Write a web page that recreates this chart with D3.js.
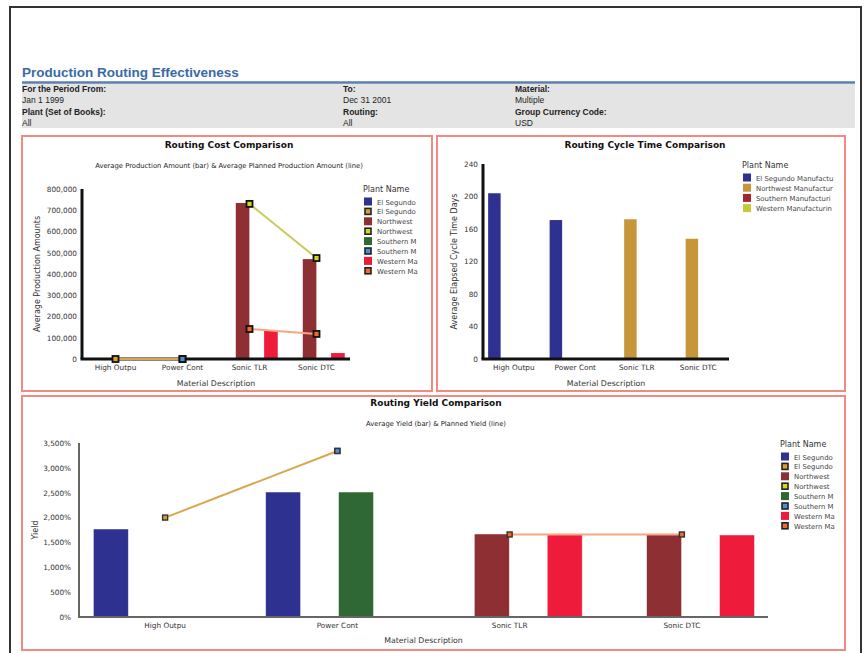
<!DOCTYPE html>
<html><head><meta charset="utf-8">
<script src="https://cdn.jsdelivr.net/npm/d3@7"></script>
<style>
html,body{margin:0;padding:0;background:#fff;}
svg text{font-family:"DejaVu Sans",Verdana,sans-serif;}
</style></head>
<body><svg id="c" width="866" height="653"></svg>
<script>
// ---------- data ----------
const materials = ["High Outpu", "Power Cont", "Sonic TLR", "Sonic DTC"];
const plants = ["El Segundo", "Northwest", "Southern M", "Western Ma"];

// Routing Cost Comparison
const costTicks = [0, 100000, 200000, 300000, 400000, 500000, 600000, 700000, 800000];
const costBarElSegundo = [null, null, null, null];
const costBarNorthwest = [null, null, 734000, 470000];
const costBarSouthern = [null, null, null, null];
const costBarWestern = [null, null, 132000, 28000];
const costPlanElSegundo = [0, 0, null, null];
const costPlanNorthwest = [null, null, 730000, 475000];
const costPlanSouthern = [null, 0, null, null];
const costPlanWestern = [null, null, 141000, 118000];

// Routing Cycle Time Comparison
const cycleTicks = [0, 40, 80, 120, 160, 200, 240];
const cyclePlants = ["El Segundo Manufactu", "Northwest Manufactur", "Southern Manufacturi", "Western Manufacturin"];
const cycleElSegundo = [204, 171, null, null];
const cycleNorthwest = [null, null, 172, 148];
const cycleSouthern = [null, null, null, null];
const cycleWestern = [null, null, null, null];

// Routing Yield Comparison
const yieldTicks = [0, 500, 1000, 1500, 2000, 2500, 3000, 3500];
const yieldBarElSegundo = [1770, 2514, null, null];
const yieldBarNorthwest = [null, null, 1670, 1670];
const yieldBarSouthern = [null, 2514, null, null];
const yieldBarWestern = [null, null, 1670, 1650];
const yieldPlanElSegundo = [2000, 3340, null, null];
const yieldPlanNorthwest = [null, null, null, null];
const yieldPlanSouthern = [null, 3340, null, null];
const yieldPlanWestern = [null, null, 1660, 1660];

// ---------- styles ----------
const barColors = {"El Segundo":"#2e3190","Northwest":"#8e2f33","Southern M":"#2f6834","Western Ma":"#ee1b3b"};
const markColors = {"El Segundo":"#d9a030","Northwest":"#d6d62a","Southern M":"#4a8fd6","Western Ma":"#f06a2a"};
const lineColors = {"El Segundo":"#d8a850","Northwest":"#c9cb5c","Southern M":"#7ab0e0","Western Ma":"#f6a682"};
const cycleColors = ["#2e3190", "#c8963a", "#a0282c", "#c8c836"];

const svg = d3.select("#c");

// page frame
svg.append("path").attr("d","M10,653V7H861V653").attr("fill","none").attr("stroke","#333").attr("stroke-width",2);
svg.append("text").attr("x",22).attr("y",77).attr("fill","#3b69a3").attr("font-weight","bold")
  .style("font-family","'Liberation Sans',Arial,sans-serif").attr("font-size",13.5).text("Production Routing Effectiveness");
svg.append("rect").attr("x",22).attr("y",84).attr("width",833).attr("height",44).attr("fill","#e4e4e4");
svg.append("line").attr("x1",22).attr("x2",855).attr("y1",82.5).attr("y2",82.5).attr("stroke","#5a7eb0").attr("stroke-width",2.5);
const header = [
  [22, ["For the Period From:", "Jan 1 1999", "Plant (Set of Books):", "All"]],
  [343, ["To:", "Dec 31 2001", "Routing:", "All"]],
  [515, ["Material:", "Multiple", "Group Currency Code:", "USD"]]
];
const rowY = [92, 103, 115, 126];
header.forEach(([x, rows]) => rows.forEach((t, i) => {
  svg.append("text").attr("x", x).attr("y", rowY[i]).attr("font-size", 8.5)
    .style("font-family","'Liberation Sans',Arial,sans-serif")
    .attr("font-weight", i % 2 === 0 ? "bold" : "normal").attr("fill", "#222").text(t);
}));

// panels
[[22,136,410,255],[437,136,408,255],[22,396,823,254]].forEach(([x,y,w,h]) => {
  svg.append("rect").attr("x",x).attr("y",y).attr("width",w).attr("height",h)
    .attr("fill","none").attr("stroke","#f28a82").attr("stroke-width",2);
});

function comboChart(o) {
  const g = svg.append("g");
  const x0 = d3.scaleBand().domain(materials).range([o.left, o.right]);
  const bw = x0.bandwidth();
  const x1 = d3.scaleBand().domain(d3.range(o.bars.length)).range([bw*0.075, bw*0.93]).padding(0.04);
  const y = d3.scaleLinear().domain([0, o.max]).range([o.bottom, o.top]);

  g.append("text").attr("x", o.titleX).attr("y", o.titleY).attr("text-anchor","middle")
    .attr("font-size", 9).attr("font-weight","bold").attr("fill","#111").text(o.title);
  if (o.subtitle) g.append("text").attr("x", o.titleX).attr("y", o.subY).attr("text-anchor","middle")
    .attr("font-size", 6.8).attr("fill","#222").text(o.subtitle);

  // bars
  o.bars.forEach((s, si) => {
    g.selectAll(null).data(s.values.map((v,i)=>({v, m: materials[i]})).filter(d=>d.v!=null))
      .enter().append("rect")
      .attr("x", d => x0(d.m) + x1(si)).attr("width", x1.bandwidth())
      .attr("y", d => y(d.v)).attr("height", d => o.bottom - y(d.v))
      .attr("fill", s.color).attr("stroke", o.barStroke || "none").attr("stroke-width", 0.8);
  });

  // axes
  const yAxis = d3.axisLeft(y).tickValues(o.ticks).tickSize(0).tickPadding(o.tickPad).tickFormat(o.fmt);
  const ya = g.append("g").attr("transform", `translate(${o.left},0)`).call(yAxis);
  ya.select(".domain").remove();
  ya.selectAll("text").attr("font-size", 7.3).attr("fill","#333").style("font-family","'DejaVu Sans',sans-serif");
  const xAxis = d3.axisBottom(x0).tickSize(0).tickPadding(6);
  const xa = g.append("g").attr("transform", `translate(0,${o.bottom})`).call(xAxis);
  xa.select(".domain").remove();
  xa.selectAll("text").attr("font-size", 7.3).attr("fill","#333");
  g.append("line").attr("x1", o.left).attr("x2", o.left).attr("y1", o.top).attr("y2", o.bottom)
    .attr("stroke", o.axisColor).attr("stroke-width", o.axisW);
  g.append("line").attr("x1", o.left - o.axisW/2).attr("x2", o.right).attr("y1", o.bottom).attr("y2", o.bottom)
    .attr("stroke", o.axisColor).attr("stroke-width", o.axisW);

  // lines
  (o.lines || []).forEach(s => {
    const pts = s.values.map((v,i)=>({v, m: materials[i]})).filter(d=>d.v!=null);
    if (pts.length > 1) {
      g.append("path").datum(pts).attr("fill","none").attr("stroke", s.lineColor).attr("stroke-width", 2)
        .attr("d", d3.line().x(d => x0(d.m) + bw/2).y(d => y(d.v)));
    }
  });
  (o.lines || []).forEach(s => {
    const pts = s.values.map((v,i)=>({v, m: materials[i]})).filter(d=>d.v!=null);
    g.selectAll(null).data(pts).enter().append("rect")
      .attr("x", d => x0(d.m) + bw/2 - o.mk/2).attr("y", d => y(d.v) - o.mk/2)
      .attr("width", o.mk).attr("height", o.mk)
      .attr("fill", s.markColor).attr("stroke", o.mkStroke).attr("stroke-width", o.mkW);
  });

  // axis titles
  g.append("text").attr("transform", `translate(${o.yTitleX},${(o.top+o.bottom)/2}) rotate(-90)`)
    .attr("text-anchor","middle").attr("font-size", 8).attr("fill","#333").text(o.yTitle);
  g.append("text").attr("x", (o.left+o.right)/2).attr("y", o.xTitleY).attr("text-anchor","middle")
    .attr("font-size", 7.8).attr("fill","#333").text("Material Description");

  // legend
  g.append("text").attr("x", o.legX).attr("y", o.legY).attr("font-size", 8).attr("fill","#333").text("Plant Name");
  o.legend.forEach((it, i) => {
    const yy = o.legY + 10 + i * o.legStep;
    if (it.marker) {
      g.append("rect").attr("x", o.legX + 2).attr("y", yy - 3.5).attr("width", 6).attr("height", 6)
        .attr("fill", it.color).attr("stroke", "#222").attr("stroke-width", 1.6);
    } else {
      g.append("rect").attr("x", o.legX + 1).attr("y", yy - 4.5).attr("width", 8).attr("height", 8).attr("fill", it.color);
    }
    g.append("text").attr("x", o.legX + 14).attr("y", yy + 2.5).attr("font-size", 6.9).attr("fill","#444").text(it.label);
  });
}

function plantLegend() {
  const out = [];
  plants.forEach(p => { out.push({label: p === "El Segundo" ? "El Segundo" : p, color: barColors[p]});
                        out.push({label: p, color: markColors[p], marker: true}); });
  return out;
}

comboChart({
  title: "Routing Cost Comparison", titleX: 229, titleY: 148,
  subtitle: "Average Production Amount (bar) & Average Planned Production Amount (line)", subY: 168,
  left: 82, right: 350, top: 189, bottom: 359, max: 800000, ticks: costTicks,
  fmt: d3.format(","), tickPad: 5,
  bars: [
    {values: costBarElSegundo, color: barColors["El Segundo"]},
    {values: costBarNorthwest, color: barColors["Northwest"]},
    {values: costBarSouthern, color: barColors["Southern M"]},
    {values: costBarWestern, color: barColors["Western Ma"]}
  ],
  lines: [
    {values: costPlanElSegundo, lineColor: lineColors["El Segundo"], markColor: markColors["El Segundo"]},
    {values: costPlanNorthwest, lineColor: lineColors["Northwest"], markColor: markColors["Northwest"]},
    {values: costPlanSouthern, lineColor: lineColors["Southern M"], markColor: markColors["Southern M"]},
    {values: costPlanWestern, lineColor: lineColors["Western Ma"], markColor: markColors["Western Ma"]}
  ],
  mk: 6, mkStroke: "#111", mkW: 1.8,
  axisColor: "#111", axisW: 3,
  yTitle: "Average Production Amounts", yTitleX: 40, xTitleY: 386,
  legX: 363, legY: 192, legStep: 9.9, legend: plantLegend()
});

comboChart({
  title: "Routing Cycle Time Comparison", titleX: 645, titleY: 148,
  left: 483, right: 729, top: 164, bottom: 359, max: 240, ticks: cycleTicks,
  fmt: d3.format("d"), tickPad: 5,
  bars: [
    {values: cycleElSegundo, color: cycleColors[0]},
    {values: cycleNorthwest, color: cycleColors[1]},
    {values: cycleSouthern, color: cycleColors[2]},
    {values: cycleWestern, color: cycleColors[3]}
  ],
  lines: [],
  axisColor: "#111", axisW: 3,
  yTitle: "Average Elapsed Cycle Time Days", yTitleX: 457, xTitleY: 386,
  legX: 742, legY: 168, legStep: 10.2,
  legend: cyclePlants.map((p, i) => ({label: p, color: cycleColors[i]}))
});

comboChart({
  title: "Routing Yield Comparison", titleX: 436, titleY: 406,
  subtitle: "Average Yield (bar) & Planned Yield (line)", subY: 426,
  left: 79, right: 768, top: 443, bottom: 617, max: 3500, ticks: yieldTicks,
  fmt: d => d3.format(",")(d) + "%", tickPad: 8,
  bars: [
    {values: yieldBarElSegundo, color: barColors["El Segundo"]},
    {values: yieldBarNorthwest, color: barColors["Northwest"]},
    {values: yieldBarSouthern, color: barColors["Southern M"]},
    {values: yieldBarWestern, color: barColors["Western Ma"]}
  ],
  barStroke: "rgba(255,255,255,0.6)",
  lines: [
    {values: yieldPlanElSegundo, lineColor: lineColors["El Segundo"], markColor: markColors["El Segundo"]},
    {values: yieldPlanNorthwest, lineColor: lineColors["Northwest"], markColor: markColors["Northwest"]},
    {values: yieldPlanSouthern, lineColor: lineColors["Southern M"], markColor: markColors["Southern M"]},
    {values: yieldPlanWestern, lineColor: lineColors["Western Ma"], markColor: markColors["Western Ma"]}
  ],
  mk: 5, mkStroke: "#333", mkW: 1.4,
  axisColor: "#666", axisW: 2,
  yTitle: "Yield", yTitleX: 38, xTitleY: 643,
  legX: 780, legY: 447, legStep: 9.9, legend: plantLegend()
});
</script></body></html>
